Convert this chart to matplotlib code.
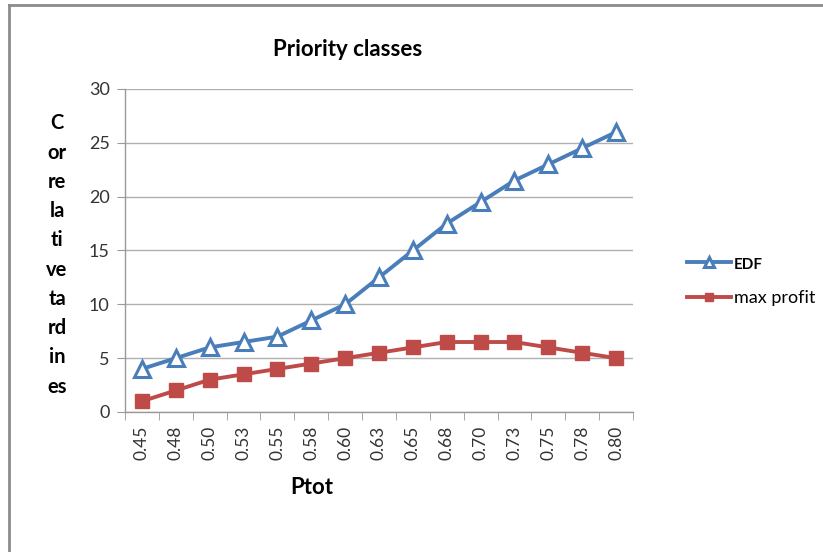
import matplotlib
matplotlib.use("Agg")
import matplotlib.pyplot as plt
from matplotlib.lines import Line2D
import numpy as np

plt.rcParams['font.family'] = ['Lato', 'DejaVu Sans']

ptot = ["0.45", "0.48", "0.50", "0.53", "0.55", "0.58", "0.60", "0.63",
        "0.65", "0.68", "0.70", "0.73", "0.75", "0.78", "0.80"]
edf = [4, 5, 6, 6.5, 7, 8.5, 10, 12.5, 15, 17.5, 19.5, 21.5, 23, 24.5, 26]
max_profit = [1, 2, 3, 3.5, 4, 4.5, 5, 5.5, 6, 6.5, 6.5, 6.5, 6, 5.5, 5]
y_ticks = [0, 5, 10, 15, 20, 25, 30]

W, H = 823, 552
fig = plt.figure(figsize=(W / 100, H / 100), dpi=100)
fig.patch.set_facecolor("white")

# outer chart border (left and top edges visible)
fig.add_artist(Line2D([9 / W, 9 / W], [0, 1 - 5 / H], transform=fig.transFigure,
                      color="#8c8c8c", lw=2))
fig.add_artist(Line2D([9 / W, 1], [1 - 5 / H, 1 - 5 / H], transform=fig.transFigure,
                      color="#8c8c8c", lw=2))

left, right, top, bottom = 125, 633, 89, 412
ax = fig.add_axes([left / W, 1 - bottom / H, (right - left) / W, (bottom - top) / H])

x = np.arange(len(ptot))
blue = "#4a7ebb"
red = "#be4b48"
ax.plot(x, edf, color=blue, lw=2.8, marker="^", ms=11, mfc="white",
        mec=blue, mew=2.2, label="EDF", zorder=3)
ax.plot(x, max_profit, color=red, lw=2.8, marker="s", ms=10, mfc=red,
        mec=red, label="max profit", zorder=3)

ax.set_xlim(-0.5, len(ptot) - 0.5)
ax.set_ylim(0, 30)
ax.set_yticks(y_ticks)
ax.set_yticklabels([str(v) for v in y_ticks], fontsize=13, color="#333333")
ax.set_xticks(x)
ax.set_xticklabels(ptot, rotation=90, fontsize=12.5, color="#333333")
ax.set_xticks(np.arange(-0.5, len(ptot), 1), minor=True)
ax.tick_params(axis="x", which="major", length=0, pad=10)
ax.tick_params(axis="x", which="minor", length=6, color="#999999", direction="out")
ax.tick_params(axis="y", length=6, color="#999999", direction="out", pad=5)

ax.grid(axis="y", color="#b0b0b0", lw=1)
ax.set_axisbelow(True)
for s in ["top", "right"]:
    ax.spines[s].set_visible(False)
for s in ["left", "bottom"]:
    ax.spines[s].set_color("#999999")
    ax.spines[s].set_linewidth(1)

fig.text(348 / W, 1 - 50 / H, "Priority classes", ha="center", va="center",
         fontsize=16, fontweight="bold", color="black")
fig.text(312 / W, 1 - 488 / H, "Ptot", ha="center", va="center",
         fontsize=16, fontweight="bold", color="black")
fig.text(57 / W, 1 - 255 / H, "C\nor\nre\nla\nti\nve\nta\nrd\nin\nes",
         ha="center", va="center", fontsize=14.5, fontweight="bold",
         linespacing=1.58, color="black")

leg = fig.legend(handles=ax.get_lines(), loc="center left",
                 bbox_to_anchor=(671 / W, 1 - 281 / H), frameon=False,
                 fontsize=13, handlelength=2.4, labelspacing=1.0, handletextpad=0.2,
                 markerscale=0.6)
leg.get_texts()[0].set_fontweight("bold")
leg.get_texts()[0].set_fontsize(11)

fig.savefig("out.png", dpi=100)
